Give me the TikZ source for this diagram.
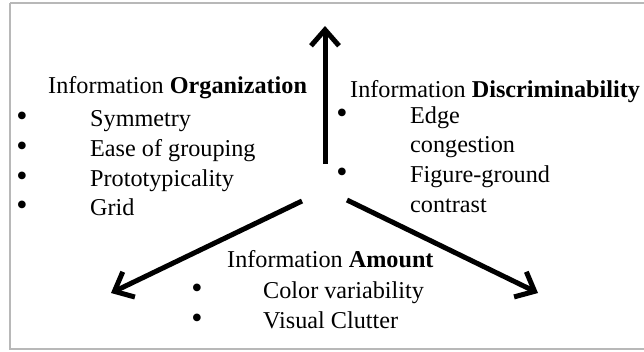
\documentclass[tikz,border=0pt]{standalone}
\usepackage{fontspec}
\setmainfont{Liberation Serif}
\usetikzlibrary{arrows.meta}
\begin{document}
\begin{tikzpicture}[x=1pt,y=-1pt,
  txt/.style={anchor=base west,inner sep=0pt,font=\fontsize{24.2}{29}\selectfont},
  bul/.style={anchor=base,inner sep=0pt,font=\fontsize{32}{36}\selectfont},
  bigarrow/.style={line width=5pt,-{Straight Barb[length=16pt,width=28pt,line width=5pt]}},
  frame/.style={draw=black!28,line width=1.2pt}]
\useasboundingbox (0,0) rectangle (644,351);
\draw[frame] (10,3) -- (650,3) (10,3) -- (10,349) -- (650,349);
% arrows
\coordinate (upS) at (325,164);
\coordinate (upE) at (325,26);
\coordinate (lS) at (302,201);
\coordinate (lE) at (111,293);
\coordinate (rS) at (347,200);
\coordinate (rE) at (538,293);
\draw[bigarrow] (upS) -- (upE);
\draw[bigarrow] (lS) -- (lE);
\draw[bigarrow] (rS) -- (rE);
% organization
\node[txt] (org) at (48,93) {Information \textbf{Organization}};
\node[bul] (ob1) at (22,126) {\textbullet};
\node[bul] (ob2) at (22,156) {\textbullet};
\node[bul] (ob3) at (22,186) {\textbullet};
\node[bul] (ob4) at (22,215) {\textbullet};
\node[txt] (o1) at (90,126) {Symmetry};
\node[txt] (o2) at (90,156) {Ease of grouping};
\node[txt] (o3) at (90,186) {Prototypicality};
\node[txt] (o4) at (90,215) {Grid};
% discriminability
\node[txt] (dis) at (350,97) {Information \textbf{Discriminability}};
\node[bul] (db1) at (342,123) {\textbullet};
\node[bul] (db2) at (342,182) {\textbullet};
\node[txt] (d1) at (410,123) {Edge};
\node[txt] (d2) at (410,152) {congestion};
\node[txt] (d3) at (410,182) {Figure-ground};
\node[txt] (d4) at (410,212) {contrast};
% amount
\node[txt] (amt) at (227,267) {Information \textbf{Amount}};
\node[bul] (ab1) at (197,298) {\textbullet};
\node[bul] (ab2) at (197,328) {\textbullet};
\node[txt] (a1) at (263,298) {Color variability};
\node[txt] (a2) at (263,328) {Visual Clutter};
\end{tikzpicture}
\end{document}
